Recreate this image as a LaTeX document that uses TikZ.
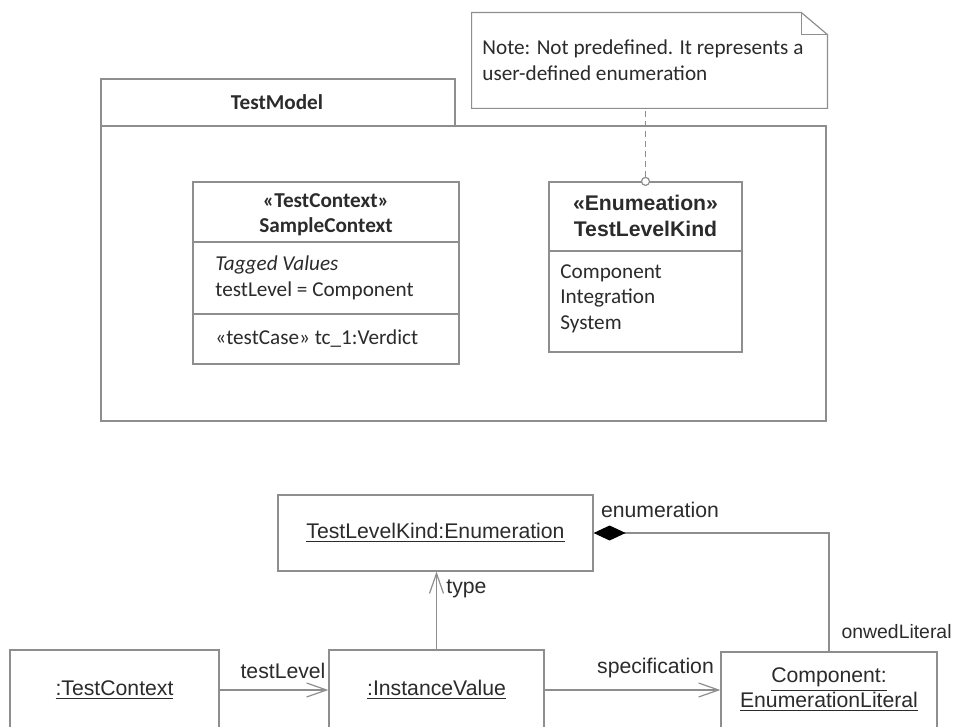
\documentclass[tikz,border=0pt]{standalone}
\usepackage{fontspec}
\setmainfont{Carlito}
\newfontfamily\arialf{Liberation Sans}
\usepackage{tikz}
\usetikzlibrary{arrows.meta,positioning,calc}
\definecolor{linegray}{HTML}{8E8E8E}
\definecolor{inkgray}{HTML}{2B2B2B}

\begin{document}
\begin{tikzpicture}[x=0.5pt,y=-0.5pt,
  umlbox/.style={draw=linegray,line width=0.6pt,inner sep=0pt},
  txt/.style={text=inkgray,inner sep=0pt,font=\fontsize{10.6}{13}\selectfont},
  txtb/.style={txt,font=\bfseries\fontsize{10.6}{12.5}\selectfont},
  atxt/.style={text=inkgray,inner sep=0pt,font=\arialf\fontsize{10.6}{12.5}\selectfont},
  atxtb/.style={atxt,font=\arialf\bfseries\fontsize{10.6}{13}\selectfont},
  link/.style={draw=linegray,line width=0.6pt},
  nav/.style={link,-{Straight Barb[length=10pt,width=7pt]}}]
  \useasboundingbox (0,0) rectangle (953,727);
  \clip (0,0) rectangle (953,727);
  \fill[white] (0,0) rectangle (953,727);

  % note
  \node[minimum width=177.5pt,minimum height=47.5pt,inner sep=0pt] (note) at (649.5,60.5) {};
  \draw[link] (note.south west) -- (note.north west) -- ([xshift=-13pt]note.north east)
    -- ([yshift=-11pt]note.north east) -- (note.south east) -- cycle;
  \draw[link] ([xshift=-13pt]note.north east) |- ([yshift=-11pt]note.north east);
  \node[txt,anchor=north west,align=left] (noteText) at (482,39) {Note: Not predefined. It represents a\\user-defined enumeration};

  % package
  \node[umlbox,minimum width=177pt,minimum height=23.5pt] (tab) at (278,102.5) {};
  \node[umlbox,minimum width=362.5pt,minimum height=147.5pt] (pkg) at (463.5,273.5) {};
  \node[txtb] (tabName) at (277,102) {TestModel};

  % SampleContext
  \node[umlbox,minimum width=133pt,minimum height=91pt] (ctx) at (326,273) {};
  \draw[link] (ctx.west |- 0,242) -- (ctx.east |- 0,242);
  \draw[link] (ctx.west |- 0,314) -- (ctx.east |- 0,314);
  \node[txtb,align=center] (ctxHead) at (326,214.5) {«TestContext»\\SampleContext};
  \node[txt,anchor=north west,align=left] (ctxAttr) at (215,255) {\textit{Tagged Values}\\testLevel = Component};
  \node[txt,anchor=west] (ctxOp) at (215,339) {«testCase» tc\_1:Verdict};

  % TestLevelKind
  \node[umlbox,minimum width=96.5pt,minimum height=85pt] (kind) at (645.5,267) {};
  \draw[link] (kind.west |- 0,251) -- (kind.east |- 0,251);
  \node[atxtb,align=center] (kindHead) at (645.5,216) {«Enumeation»\\TestLevelKind};
  \node[txt,anchor=north west,align=left,font=\fontsize{10.6}{12.75}\selectfont] (kindLits) at (560,264) {Component\\Integration\\System};
  \node[circle,draw=linegray,line width=0.6pt,fill=white,minimum size=4pt,inner sep=0pt] (dot) at (kind.north) {};
  \draw[link,densely dashed] (dot.north) -- (dot.north |- note.south);

  % instances
  \node[umlbox,atxt,minimum width=157.5pt,minimum height=38pt] (enumObj) at (435.5,533) {\underline{TestLevelKind:Enumeration}};
  \node[umlbox,atxt,minimum width=104.5pt,minimum height=40pt] (tcObj) at (114.5,690) {\underline{:TestContext}};
  \node[umlbox,atxt,minimum width=107.5pt,minimum height=40pt] (ivObj) at (436.5,690) {\underline{:InstanceValue}};
  \node[umlbox,atxt,align=center,minimum width=108pt,minimum height=38pt] (litObj) at (829,690) {\underline{Component:}\\\underline{EnumerationLiteral}};

  \draw[nav] (tcObj) -- (ivObj);
  \draw[nav] (ivObj) -- (litObj);
  \draw[nav] (ivObj.north) -- (ivObj.north |- enumObj.south);
  \draw[link,{Diamond[length=16pt,width=7.5pt,color=black]}-] (enumObj.east) -| (litObj.north);

  \node[atxt] (lblLevel) at (283,671) {testLevel};
  \node[atxt] (lblSpec) at (655.5,668) {specification};
  \node[atxt,anchor=west] (lblType) at (446,589) {type};
  \node[atxt] (lblEnum) at (660,510) {enumeration};
  \node[atxt,anchor=east,font=\arialf\fontsize{9.7}{12}\selectfont] (lblOwned) at (952,632) {onwedLiteral};
\end{tikzpicture}
\end{document}
